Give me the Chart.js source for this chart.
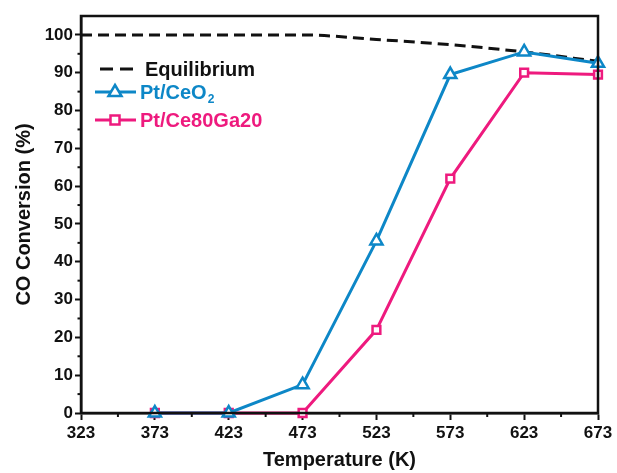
<!DOCTYPE html>
<html>
<head>
<meta charset="utf-8">
<script src="https://cdn.jsdelivr.net/npm/chart.js@4/dist/chart.umd.min.js"></script>
<style>
	html, body { margin: 0; padding: 0; background: #fff; }
	canvas { display: block; }
</style>
</head>
<body>
<canvas id="convChart" width="617" height="473"></canvas>
<script>
// data
const temps = [323, 373, 423, 473, 523, 573, 623, 673]
const equilibrium = [100, 100, 100, 100, 98.8, 97.4, 95.5, 93]
const ptCeO2 = [null, 0, 0, 7.5, 45.5, 89.5, 95.5, 92.5]
const ptCeGa = [null, 0, 0, 0, 22, 62, 90, 89.5]

const xTicks = [323, 373, 423, 473, 523, 573, 623, 673]
const yTicks = [0, 10, 20, 30, 40, 50, 60, 70, 80, 90, 100]

const blue = '#0d87c7'
const pink = '#ee1a7e'
const fontFamily = "'Liberation Sans', Arial, sans-serif"

const toPoints = values => temps
	.map((t, i) => ({ x: t, y: values[i] }))
	.filter(p => p.y !== null)

//frame, minor ticks and legend
const extras = {
	id: 'extras',
	afterDraw(chart) {
		const ctx = chart.ctx
		const area = chart.chartArea
		const xs = chart.scales.x
		const ys = chart.scales.y

		ctx.save()
		ctx.strokeStyle = '#111'
		ctx.lineWidth = 2.5
		ctx.strokeRect(area.left, area.top, area.right - area.left, area.bottom - area.top)

		// minor ticks
		ctx.lineWidth = 2
		for (let i = 0; i < xTicks.length - 1; i++) {
			const px = xs.getPixelForValue((xTicks[i] + xTicks[i + 1]) / 2)
			ctx.beginPath()
			ctx.moveTo(px, area.bottom)
			ctx.lineTo(px, area.bottom + 4)
			ctx.stroke()
		}
		for (let i = 0; i < yTicks.length - 1; i++) {
			const py = ys.getPixelForValue((yTicks[i] + yTicks[i + 1]) / 2)
			ctx.beginPath()
			ctx.moveTo(area.left, py)
			ctx.lineTo(area.left - 3.5, py)
			ctx.stroke()
		}

		// legend
		ctx.font = `bold 20px ${fontFamily}`
		ctx.textBaseline = 'alphabetic'
		ctx.lineWidth = 3

		ctx.strokeStyle = '#111'
		ctx.setLineDash([13, 7])
		ctx.beginPath()
		ctx.moveTo(100, 69)
		ctx.lineTo(133, 69)
		ctx.stroke()
		ctx.setLineDash([])
		ctx.fillStyle = '#111'
		ctx.fillText('Equilibrium', 145, 76)

		// Pt/CeO2
		ctx.strokeStyle = blue
		ctx.beginPath()
		ctx.moveTo(95, 92)
		ctx.lineTo(136, 92)
		ctx.stroke()
		ctx.fillStyle = '#fff'
		ctx.lineWidth = 2.5
		ctx.beginPath()
		ctx.moveTo(115, 85)
		ctx.lineTo(121.5, 96)
		ctx.lineTo(108.5, 96)
		ctx.closePath()
		ctx.fill()
		ctx.stroke()
		ctx.fillStyle = blue
		ctx.fillText('Pt/CeO', 140, 99)
		const w = ctx.measureText('Pt/CeO').width
		ctx.font = `bold 12px ${fontFamily}`
		ctx.fillText('2', 140 + w + 1, 103)

		// Pt/Ce80Ga20
		ctx.font = `bold 20px ${fontFamily}`
		ctx.lineWidth = 3
		ctx.strokeStyle = pink
		ctx.beginPath()
		ctx.moveTo(95, 120)
		ctx.lineTo(136, 120)
		ctx.stroke()
		ctx.lineWidth = 2.5
		ctx.fillStyle = '#fff'
		ctx.fillRect(110.5, 115.5, 9, 9)
		ctx.strokeRect(110.5, 115.5, 9, 9)
		ctx.fillStyle = pink
		ctx.fillText('Pt/Ce80Ga20', 140, 127)
		ctx.restore()
	}
}

const chart = new Chart(document.getElementById('convChart'), {
	type: 'line',
	data: {
		datasets: [{
			label: 'Pt/CeO2',
			data: toPoints(ptCeO2),
			borderColor: blue,
			backgroundColor: '#fff',
			borderWidth: 3,
			pointStyle: 'triangle',
			pointRadius: 7,
			pointBorderWidth: 2.5,
			clip: false
		}, {
			label: 'Pt/Ce80Ga20',
			data: toPoints(ptCeGa),
			borderColor: pink,
			backgroundColor: '#fff',
			borderWidth: 3,
			pointStyle: 'rect',
			pointRadius: 5.5,
			pointBorderWidth: 2.5,
			clip: false
		}, {
			label: 'Equilibrium',
			data: toPoints(equilibrium),
			borderColor: '#111',
			borderWidth: 3,
			borderDash: [11, 6],
			pointRadius: 0,
			cubicInterpolationMode: 'monotone'
		}]
	},
	options: {
		responsive: false,
		animation: false,
		layout: {
			padding: { top: 16, right: 19, left: 0, bottom: 0 }
		},
		plugins: {
			legend: { display: false },
			tooltip: { enabled: false }
		},
		scales: {
			x: {
				type: 'linear',
				min: 323,
				max: 673,
				afterBuildTicks: scale => {
					scale.ticks = xTicks.map(v => ({ value: v }))
				},
				afterFit: scale => { scale.height = 60 },
				grid: {
					drawOnChartArea: false,
					tickLength: 7,
					tickWidth: 2,
					tickColor: '#111'
				},
				border: { color: '#111', width: 2.5 },
				ticks: {
					color: '#111',
					padding: 3,
					maxRotation: 0,
					font: { family: fontFamily, size: 17, weight: 'bold' }
				},
				title: {
					display: true,
					text: 'Temperature (K)',
					color: '#111',
					padding: { top: 0, bottom: 1 },
					font: { family: fontFamily, size: 20, weight: 'bold' }
				}
			},
			y: {
				min: 0,
				max: 105,
				afterBuildTicks: scale => {
					scale.ticks = yTicks.map(v => ({ value: v }))
				},
				afterFit: scale => { scale.width = 81 },
				grid: {
					drawOnChartArea: false,
					tickLength: 6,
					tickWidth: 2,
					tickColor: '#111'
				},
				border: { color: '#111', width: 2.5 },
				ticks: {
					color: '#111',
					padding: 2,
					font: { family: fontFamily, size: 17, weight: 'bold' }
				},
				title: {
					display: true,
					text: 'CO Conversion (%)',
					color: '#111',
					padding: { top: 12, bottom: 0 },
					font: { family: fontFamily, size: 20, weight: 'bold' }
				}
			}
		}
	},
	plugins: [extras]
})
</script>
</body>
</html>
